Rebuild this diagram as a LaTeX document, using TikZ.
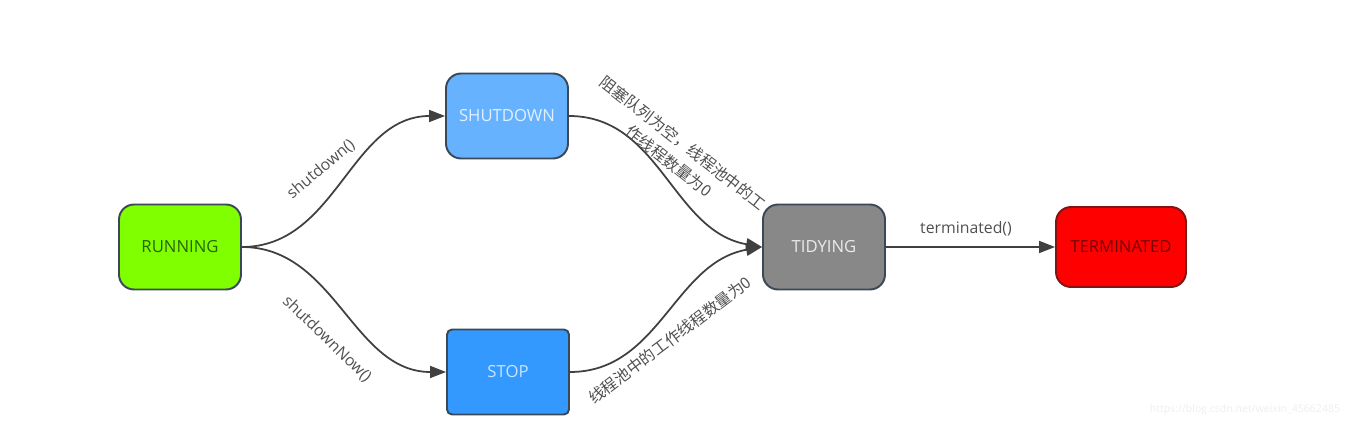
\documentclass[tikz,border=0pt]{standalone}
\usepackage{fontspec}
\setmainfont{Open Sans}
\newfontfamily\cjk{Noto Sans CJK SC}
\usetikzlibrary{arrows.meta}

\definecolor{borda}{HTML}{3A4858}
\definecolor{linha}{HTML}{404040}
\definecolor{texto}{HTML}{505050}

\begin{document}
\begin{tikzpicture}[x=0.02cm, y=0.02cm,
	estado/.style={draw=borda, line width=1.1pt, rounded corners=0.3cm,
		minimum width=2.44cm, minimum height=1.7cm, inner sep=0pt,
		font=\fontsize{9.5}{11}\selectfont},
	seta/.style={draw=linha, line width=1pt, -{Triangle[length=3.2mm,width=2.4mm]}},
	rotulo/.style={text=texto, inner sep=1pt, font=\fontsize{9}{11}\selectfont}]

\useasboundingbox (0,0) rectangle (1347,426);

% Estados
\node[estado, fill={rgb,255:red,128;green,255;blue,0}, text={rgb,255:red,40;green,100;blue,0}] (RUN) at (180,179) {RUNNING};
\node[estado, fill={rgb,255:red,102;green,178;blue,255}, text={rgb,255:red,225;green,240;blue,255}] (SHD) at (507,310) {SHUTDOWN};
\node[estado, rounded corners=0.1cm, fill={rgb,255:red,51;green,153;blue,255}, text={rgb,255:red,200;green,228;blue,255}] (STP) at (508,54) {STOP};
\node[estado, fill={rgb,255:red,136;green,136;blue,136}, text={rgb,255:red,235;green,235;blue,235}] (TID) at (824,179) {TIDYING};
\node[estado, minimum width=2.6cm, minimum height=1.6cm, draw={rgb,255:red,130;green,20;blue,20},
	fill={rgb,255:red,255;green,0;blue,0}, text={rgb,255:red,120;green,0;blue,0}] (TER) at (1121,179) {TERMINATED};

% Transicoes
\draw[seta] (RUN.east) to[out=0, in=180] (SHD.west);
\draw[seta] (RUN.east) to[out=0, in=180] (STP.west);
\draw[seta] (SHD.east) to[out=0, in=170] (TID.west);
\draw[seta] (STP.east) to[out=0, in=190] (TID.west);
\draw[seta] (TID.east) -- (TER.west);

% Rotulos
\node[rotulo, rotate=40] (l1) at (321,257) {shutdown()};
\node[rotulo, rotate=-44] (l2) at (327,87) {shutdownNow()};
\node[rotulo, rotate=-38, align=center, font=\cjk\fontsize{9}{13}\selectfont] (l3) at (676,274)
	{阻塞队列为空，线程池中的工\\作线程数量为0};
\node[rotulo, rotate=37, font=\cjk\fontsize{9}{11}\selectfont] (l4) at (670,86) {线程池中的工作线程数量为0};
\node[rotulo] (l5) at (966,197) {terminated()};

\node[text={rgb,255:red,238;green,238;blue,238}, font=\fontsize{6}{7}\selectfont] (wm) at (1245,16) {https://blog.csdn.net/weixin\_45662485};
\end{tikzpicture}
\end{document}
